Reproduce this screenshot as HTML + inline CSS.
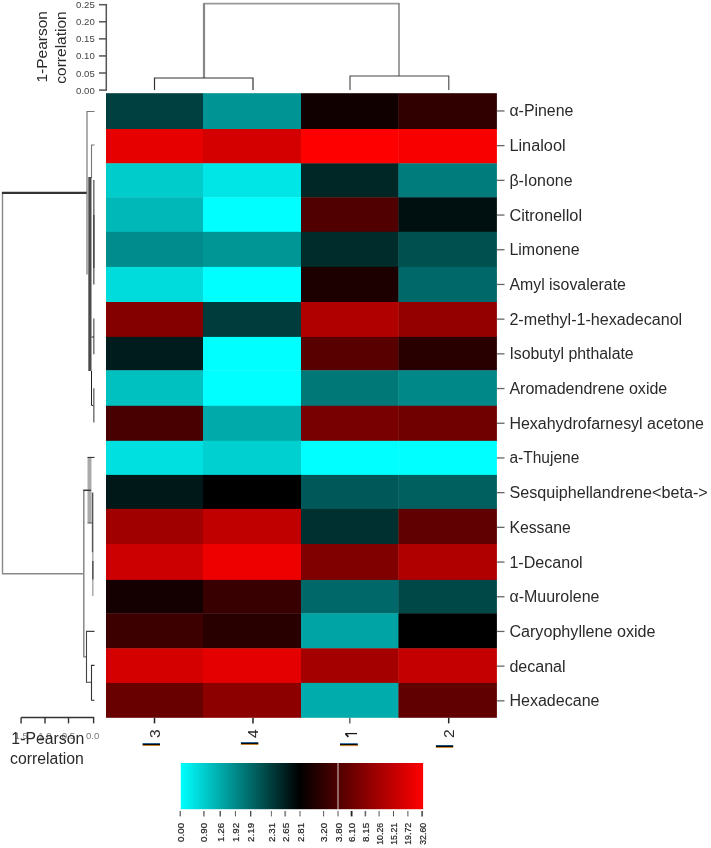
<!DOCTYPE html>
<html><head><meta charset="utf-8"><title>Heatmap</title>
<style>html,body{margin:0;padding:0;background:#fff}svg{display:block;filter:blur(0.4px)}text{font-family:"Liberation Sans",sans-serif}</style></head><body>
<svg width="711" height="848" viewBox="0 0 711 848">
<defs><linearGradient id="lg" x1="0" x2="1" y1="0" y2="0"><stop offset="0" stop-color="#00ffff"/><stop offset="0.49" stop-color="#000000"/><stop offset="1" stop-color="#ff0000"/></linearGradient></defs>
<rect width="711" height="848" fill="#fff"/>
<g>
<rect x="106.00" y="93.20" width="97.40" height="36.20" fill="#004040"/>
<rect x="203.00" y="93.20" width="98.40" height="36.20" fill="#009494"/>
<rect x="301.00" y="93.20" width="97.80" height="36.20" fill="#100000"/>
<rect x="398.40" y="93.20" width="98.50" height="36.20" fill="#300000"/>
<rect x="106.00" y="129.00" width="97.40" height="34.70" fill="#E60000"/>
<rect x="203.00" y="129.00" width="98.40" height="34.70" fill="#D40000"/>
<rect x="301.00" y="129.00" width="97.80" height="34.70" fill="#FF0000"/>
<rect x="398.40" y="129.00" width="98.50" height="34.70" fill="#F80000"/>
<rect x="106.00" y="163.30" width="97.40" height="34.40" fill="#00CCCC"/>
<rect x="203.00" y="163.30" width="98.40" height="34.40" fill="#00E6E6"/>
<rect x="301.00" y="163.30" width="97.80" height="34.40" fill="#002626"/>
<rect x="398.40" y="163.30" width="98.50" height="34.40" fill="#007C7C"/>
<rect x="106.00" y="197.30" width="97.40" height="34.90" fill="#00B8B8"/>
<rect x="203.00" y="197.30" width="98.40" height="34.90" fill="#00FFFF"/>
<rect x="301.00" y="197.30" width="97.80" height="34.90" fill="#500000"/>
<rect x="398.40" y="197.30" width="98.50" height="34.90" fill="#001010"/>
<rect x="106.00" y="231.80" width="97.40" height="35.50" fill="#008C8C"/>
<rect x="203.00" y="231.80" width="98.40" height="35.50" fill="#009696"/>
<rect x="301.00" y="231.80" width="97.80" height="35.50" fill="#002C2C"/>
<rect x="398.40" y="231.80" width="98.50" height="35.50" fill="#005050"/>
<rect x="106.00" y="266.90" width="97.40" height="35.50" fill="#00DCDC"/>
<rect x="203.00" y="266.90" width="98.40" height="35.50" fill="#00FFFF"/>
<rect x="301.00" y="266.90" width="97.80" height="35.50" fill="#1C0000"/>
<rect x="398.40" y="266.90" width="98.50" height="35.50" fill="#006868"/>
<rect x="106.00" y="302.00" width="97.40" height="35.30" fill="#840000"/>
<rect x="203.00" y="302.00" width="98.40" height="35.30" fill="#003C3C"/>
<rect x="301.00" y="302.00" width="97.80" height="35.30" fill="#B00000"/>
<rect x="398.40" y="302.00" width="98.50" height="35.30" fill="#940000"/>
<rect x="106.00" y="336.90" width="97.40" height="33.80" fill="#001C1C"/>
<rect x="203.00" y="336.90" width="98.40" height="33.80" fill="#00FFFF"/>
<rect x="301.00" y="336.90" width="97.80" height="33.80" fill="#580000"/>
<rect x="398.40" y="336.90" width="98.50" height="33.80" fill="#280000"/>
<rect x="106.00" y="370.30" width="97.40" height="35.90" fill="#00C0C0"/>
<rect x="203.00" y="370.30" width="98.40" height="35.90" fill="#00FFFF"/>
<rect x="301.00" y="370.30" width="97.80" height="35.90" fill="#007878"/>
<rect x="398.40" y="370.30" width="98.50" height="35.90" fill="#008888"/>
<rect x="106.00" y="405.80" width="97.40" height="35.40" fill="#480000"/>
<rect x="203.00" y="405.80" width="98.40" height="35.40" fill="#00AAAA"/>
<rect x="301.00" y="405.80" width="97.80" height="35.40" fill="#780000"/>
<rect x="398.40" y="405.80" width="98.50" height="35.40" fill="#700000"/>
<rect x="106.00" y="440.80" width="97.40" height="34.50" fill="#00E0E0"/>
<rect x="203.00" y="440.80" width="98.40" height="34.50" fill="#00D0D0"/>
<rect x="301.00" y="440.80" width="97.80" height="34.50" fill="#00FFFF"/>
<rect x="398.40" y="440.80" width="98.50" height="34.50" fill="#00FFFF"/>
<rect x="106.00" y="474.90" width="97.40" height="34.40" fill="#001818"/>
<rect x="203.00" y="474.90" width="98.40" height="34.40" fill="#000000"/>
<rect x="301.00" y="474.90" width="97.80" height="34.40" fill="#005858"/>
<rect x="398.40" y="474.90" width="98.50" height="34.40" fill="#006060"/>
<rect x="106.00" y="508.90" width="97.40" height="35.50" fill="#A00000"/>
<rect x="203.00" y="508.90" width="98.40" height="35.50" fill="#C00000"/>
<rect x="301.00" y="508.90" width="97.80" height="35.50" fill="#003030"/>
<rect x="398.40" y="508.90" width="98.50" height="35.50" fill="#600000"/>
<rect x="106.00" y="544.00" width="97.40" height="36.30" fill="#CC0000"/>
<rect x="203.00" y="544.00" width="98.40" height="36.30" fill="#EE0000"/>
<rect x="301.00" y="544.00" width="97.80" height="36.30" fill="#800000"/>
<rect x="398.40" y="544.00" width="98.50" height="36.30" fill="#B00000"/>
<rect x="106.00" y="579.90" width="97.40" height="33.80" fill="#140000"/>
<rect x="203.00" y="579.90" width="98.40" height="33.80" fill="#380000"/>
<rect x="301.00" y="579.90" width="97.80" height="33.80" fill="#006868"/>
<rect x="398.40" y="579.90" width="98.50" height="33.80" fill="#004848"/>
<rect x="106.00" y="613.30" width="97.40" height="35.40" fill="#3C0000"/>
<rect x="203.00" y="613.30" width="98.40" height="35.40" fill="#280000"/>
<rect x="301.00" y="613.30" width="97.80" height="35.40" fill="#00A4A4"/>
<rect x="398.40" y="613.30" width="98.50" height="35.40" fill="#000000"/>
<rect x="106.00" y="648.30" width="97.40" height="35.00" fill="#D40000"/>
<rect x="203.00" y="648.30" width="98.40" height="35.00" fill="#E40000"/>
<rect x="301.00" y="648.30" width="97.80" height="35.00" fill="#A40000"/>
<rect x="398.40" y="648.30" width="98.50" height="35.00" fill="#C40000"/>
<rect x="106.00" y="682.90" width="97.40" height="34.90" fill="#680000"/>
<rect x="203.00" y="682.90" width="98.40" height="34.90" fill="#8C0000"/>
<rect x="301.00" y="682.90" width="97.80" height="34.90" fill="#00ACAC"/>
<rect x="398.40" y="682.90" width="98.50" height="34.90" fill="#600000"/>
</g>
<g font-size="16" fill="#2a2a2a">
<line x1="496.9" x2="504.5" y1="110.95" y2="110.95" stroke="#666" stroke-width="1.3"/>
<text x="509.4" y="116.45" textLength="64" lengthAdjust="spacingAndGlyphs">α-Pinene</text>
<line x1="496.9" x2="504.5" y1="145.65" y2="145.65" stroke="#666" stroke-width="1.3"/>
<text x="509.4" y="151.15" textLength="56.2" lengthAdjust="spacingAndGlyphs">Linalool</text>
<line x1="496.9" x2="504.5" y1="180.35" y2="180.35" stroke="#666" stroke-width="1.3"/>
<text x="509.4" y="185.85" textLength="63.1" lengthAdjust="spacingAndGlyphs">β-Ionone</text>
<line x1="496.9" x2="504.5" y1="215.05" y2="215.05" stroke="#666" stroke-width="1.3"/>
<text x="509.4" y="220.55" textLength="72.7" lengthAdjust="spacingAndGlyphs">Citronellol</text>
<line x1="496.9" x2="504.5" y1="249.75" y2="249.75" stroke="#666" stroke-width="1.3"/>
<text x="509.4" y="255.25" textLength="70.2" lengthAdjust="spacingAndGlyphs">Limonene</text>
<line x1="496.9" x2="504.5" y1="284.45" y2="284.45" stroke="#666" stroke-width="1.3"/>
<text x="509.4" y="289.95" textLength="116.5" lengthAdjust="spacingAndGlyphs">Amyl isovalerate</text>
<line x1="496.9" x2="504.5" y1="319.15" y2="319.15" stroke="#666" stroke-width="1.3"/>
<text x="509.4" y="324.65" textLength="172.8" lengthAdjust="spacingAndGlyphs">2-methyl-1-hexadecanol</text>
<line x1="496.9" x2="504.5" y1="353.85" y2="353.85" stroke="#666" stroke-width="1.3"/>
<text x="509.4" y="359.35" textLength="124.3" lengthAdjust="spacingAndGlyphs">Isobutyl phthalate</text>
<line x1="496.9" x2="504.5" y1="388.55" y2="388.55" stroke="#666" stroke-width="1.3"/>
<text x="509.4" y="394.05" textLength="157.9" lengthAdjust="spacingAndGlyphs">Aromadendrene oxide</text>
<line x1="496.9" x2="504.5" y1="423.25" y2="423.25" stroke="#666" stroke-width="1.3"/>
<text x="509.4" y="428.75" textLength="194.6" lengthAdjust="spacingAndGlyphs">Hexahydrofarnesyl acetone</text>
<line x1="496.9" x2="504.5" y1="457.95" y2="457.95" stroke="#666" stroke-width="1.3"/>
<text x="509.4" y="463.45" textLength="69.9" lengthAdjust="spacingAndGlyphs">a-Thujene</text>
<line x1="496.9" x2="504.5" y1="492.65" y2="492.65" stroke="#666" stroke-width="1.3"/>
<text x="509.4" y="498.15" textLength="198.3" lengthAdjust="spacingAndGlyphs">Sesquiphellandrene&lt;beta-&gt;</text>
<line x1="496.9" x2="504.5" y1="527.35" y2="527.35" stroke="#666" stroke-width="1.3"/>
<text x="509.4" y="532.85" textLength="61.5" lengthAdjust="spacingAndGlyphs">Kessane</text>
<line x1="496.9" x2="504.5" y1="562.05" y2="562.05" stroke="#666" stroke-width="1.3"/>
<text x="509.4" y="567.55" textLength="73.3" lengthAdjust="spacingAndGlyphs">1-Decanol</text>
<line x1="496.9" x2="504.5" y1="596.75" y2="596.75" stroke="#666" stroke-width="1.3"/>
<text x="509.4" y="602.25" textLength="90.1" lengthAdjust="spacingAndGlyphs">α-Muurolene</text>
<line x1="496.9" x2="504.5" y1="631.45" y2="631.45" stroke="#666" stroke-width="1.3"/>
<text x="509.4" y="636.95" textLength="146.1" lengthAdjust="spacingAndGlyphs">Caryophyllene oxide</text>
<line x1="496.9" x2="504.5" y1="666.15" y2="666.15" stroke="#666" stroke-width="1.3"/>
<text x="509.4" y="671.65" textLength="56.2" lengthAdjust="spacingAndGlyphs">decanal</text>
<line x1="496.9" x2="504.5" y1="700.85" y2="700.85" stroke="#666" stroke-width="1.3"/>
<text x="509.4" y="706.35" textLength="90.1" lengthAdjust="spacingAndGlyphs">Hexadecane</text>
</g>
<g stroke="#555" stroke-width="1.5" fill="none">
<path d="M106.3 4V90.4"/>
<path d="M99 4.70H107"/>
<path d="M99 21.78H107"/>
<path d="M99 38.86H107"/>
<path d="M99 55.94H107"/>
<path d="M99 73.02H107"/>
<path d="M99 90.10H107"/>
</g>
<g font-size="9.6" fill="#444" text-anchor="end">
<text x="94.8" y="8.20">0.25</text>
<text x="94.8" y="25.28">0.20</text>
<text x="94.8" y="42.36">0.15</text>
<text x="94.8" y="59.44">0.10</text>
<text x="94.8" y="76.52">0.05</text>
<text x="94.8" y="93.60">0.00</text>
</g>
<g font-size="15.5" fill="#2a2a2a" text-anchor="middle">
<text transform="translate(47,46.8) rotate(-90)">1-Pearson</text>
<text transform="translate(66,47.5) rotate(-90)">correlation</text>
</g>
<g fill="none">
<path d="M204 3.6H399" stroke="#999" stroke-width="1.6"/>
<path d="M204 3V78" stroke="#888" stroke-width="2.2"/>
<path d="M399 3V76" stroke="#888" stroke-width="1.6"/>
<path d="M154.5 90V78H253V90" stroke="#333" stroke-width="1.2"/>
<path d="M350 90V76H448.8V90" stroke="#444" stroke-width="1.1"/>
</g>
<g fill="none">
<path d="M2.5 193V573.7" stroke="#888" stroke-width="1.4"/>
<path d="M1.9 192.9H87" stroke="#333" stroke-width="2.1"/>
<path d="M2 573.7H84" stroke="#888" stroke-width="1.4"/>
<path d="M94.5 111.5H87V274.5" stroke="#777" stroke-width="1.2"/>
<path d="M94.5 145H91.5V178" stroke="#777" stroke-width="1.1"/>
<path d="M89.9 177V371" stroke="#4a4a4a" stroke-width="3.2"/>
<path d="M93.8 180V284.5" stroke="#777" stroke-width="1.6"/>
<path d="M93.8 215V268" stroke="#444" stroke-width="1.4"/>
<path d="M93.8 318.6V354.3" stroke="#777" stroke-width="1.5"/>
<path d="M91.5 337H94" stroke="#333" stroke-width="1"/>
<path d="M91.5 371V405.4H94" stroke="#222" stroke-width="1"/>
<path d="M93.8 388.3V422.5" stroke="#777" stroke-width="1.5"/>
<path d="M89.5 457.5V523" stroke="#aaa" stroke-width="4"/>
<path d="M87.5 457.4H94.5" stroke="#222" stroke-width="1"/>
<path d="M87.5 523H92" stroke="#555" stroke-width="1"/>
<path d="M91 490.3H83.8V656.8H86.5" stroke="#888" stroke-width="1.5"/>
<path d="M83.4 490.3H91" stroke="#222" stroke-width="1"/>
<path d="M92.6 492.5V552.4" stroke="#555" stroke-width="1.5"/>
<path d="M92.8 552V596" stroke="#aaa" stroke-width="1.5"/>
<path d="M92.8 561V579.5" stroke="#555" stroke-width="1.5"/>
<path d="M94.5 631.4H86.5V682.3H91.5" stroke="#444" stroke-width="1.1"/>
<path d="M94.5 665.4H91.5V700.2H94.5" stroke="#333" stroke-width="1.1"/>
</g>
<g stroke="#333" stroke-width="1.4" fill="none">
<path d="M21.1 717.5H94.2"/>
<path d="M21.1 717.5V723.4"/>
<path d="M45 717.5V723.4"/>
<path d="M68.5 717.5V723.4"/>
<path d="M93.6 717.5V723.4"/>
</g>
<g font-size="9.6" fill="#777" text-anchor="middle">
<text x="21.1" y="739.2">1.5</text>
<text x="45" y="739.2">1.0</text>
<text x="68.5" y="739.2">0.5</text>
<text x="92.6" y="739.2">0.0</text>
</g>
<g font-size="15.8" fill="#2a2a2a" text-anchor="middle">
<text x="47.8" y="743.5">1-Pearson</text>
<text x="47" y="763.8">correlation</text>
</g>
<path d="M154.5 717.7V723.4" stroke="#222" stroke-width="1.5"/>
<text font-size="15.5" fill="#2a2a2a" transform="translate(160.3,738) rotate(-90)">3</text>
<rect x="142.6" y="743.1" width="17.4" height="1.0" fill="#1c66a8"/>
<rect x="142.6" y="743.8" width="17.4" height="1.5" fill="#0a0a0a"/>
<rect x="142.6" y="745.2" width="17.4" height="0.8" fill="#c9780c"/>
<path d="M253 717.7V723.4" stroke="#222" stroke-width="1.5"/>
<text font-size="15.5" fill="#2a2a2a" transform="translate(257.6,738) rotate(-90)">4</text>
<rect x="240.9" y="742.1" width="17.4" height="1.0" fill="#1c66a8"/>
<rect x="240.9" y="742.8" width="17.4" height="1.5" fill="#0a0a0a"/>
<rect x="240.9" y="744.2" width="17.4" height="0.8" fill="#c9780c"/>
<path d="M349.8 717.7V723.4" stroke="#666" stroke-width="1.5"/>
<path d="M345.2 733.6H357" stroke="#1a1a1a" stroke-width="1.3" fill="none"/>
<path d="M345.6 733.8L348.4 736.8" stroke="#1a1a1a" stroke-width="1.7" fill="none"/>
<rect x="340" y="743.2" width="17.8" height="1.0" fill="#1c66a8"/>
<rect x="340" y="743.9" width="17.8" height="1.5" fill="#0a0a0a"/>
<rect x="340" y="745.3000000000001" width="17.8" height="0.8" fill="#c9780c"/>
<path d="M448.7 717.7V723.4" stroke="#222" stroke-width="1.5"/>
<text font-size="15.5" fill="#2a2a2a" transform="translate(453.6,738) rotate(-90)">2</text>
<rect x="435.9" y="745.0" width="17.3" height="1.0" fill="#1c66a8"/>
<rect x="435.9" y="745.6999999999999" width="17.3" height="1.5" fill="#0a0a0a"/>
<rect x="435.9" y="747.1" width="17.3" height="0.8" fill="#c9780c"/>
<rect x="180.8" y="763" width="242.3" height="46.2" fill="url(#lg)"/>
<path d="M338 763V809.2" stroke="#d6cccc" stroke-width="1"/>
<path d="M180.2 811V816.4" stroke="#333" stroke-width="1"/>
<path d="M203.9 811V816.4" stroke="#888" stroke-width="1.8"/>
<path d="M220.2 811V816.4" stroke="#333" stroke-width="1.2"/>
<path d="M235.4 811V816.4" stroke="#555" stroke-width="1"/>
<path d="M250.7 811V816.4" stroke="#333" stroke-width="1.2"/>
<path d="M271.4 811V816.4" stroke="#666" stroke-width="1"/>
<path d="M285.2 811V816.4" stroke="#888" stroke-width="1.8"/>
<path d="M300 811V816.4" stroke="#555" stroke-width="1"/>
<path d="M323.6 811V816.4" stroke="#555" stroke-width="1"/>
<path d="M338 811V816.4" stroke="#555" stroke-width="1"/>
<path d="M351.6 811V816.4" stroke="#222" stroke-width="1.8"/>
<path d="M365.4 811V816.4" stroke="#666" stroke-width="1.6"/>
<path d="M379.1 811V816.4" stroke="#555" stroke-width="1"/>
<path d="M393.5 811V816.4" stroke="#555" stroke-width="1"/>
<path d="M407.9 811V816.4" stroke="#555" stroke-width="1"/>
<path d="M422.1 811V816.4" stroke="#222" stroke-width="1.3"/>
<g font-size="9.8" fill="#222" stroke="#222" stroke-width="0.2" text-anchor="end">
<text transform="translate(183.7,822.8) rotate(-90)">0.00</text>
<text transform="translate(207.4,822.8) rotate(-90)">0.90</text>
<text transform="translate(223.7,822.8) rotate(-90)">1.26</text>
<text transform="translate(238.9,822.8) rotate(-90)">1.92</text>
<text transform="translate(254.2,822.8) rotate(-90)">2.19</text>
<text transform="translate(274.9,822.8) rotate(-90)">2.31</text>
<text transform="translate(288.7,822.8) rotate(-90)">2.65</text>
<text transform="translate(303.5,822.8) rotate(-90)">2.81</text>
<text transform="translate(327.1,822.8) rotate(-90)">3.20</text>
<text transform="translate(341.5,822.8) rotate(-90)">3.80</text>
<text transform="translate(355.1,822.8) rotate(-90)">6.10</text>
<text transform="translate(368.9,822.8) rotate(-90)">8.15</text>
<text transform="translate(382.6,822.8) rotate(-90)" textLength="22" lengthAdjust="spacingAndGlyphs">10.26</text>
<text transform="translate(397.0,822.8) rotate(-90)" textLength="22" lengthAdjust="spacingAndGlyphs">15.21</text>
<text transform="translate(411.4,822.8) rotate(-90)" textLength="22" lengthAdjust="spacingAndGlyphs">19.72</text>
<text transform="translate(425.6,822.8) rotate(-90)" textLength="22" lengthAdjust="spacingAndGlyphs">32.60</text>
</g>
</svg></body></html>
